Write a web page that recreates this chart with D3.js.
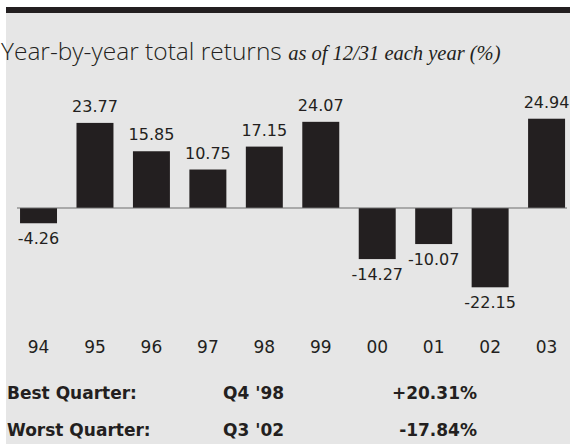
<!DOCTYPE html>
<html>
<head>
<meta charset="utf-8">
<script src="https://d3js.org/d3.v7.min.js"></script>
<style>
  body { margin: 0; background: #fff; }
</style>
</head>
<body>
<script>
// data
var years = ["94", "95", "96", "97", "98", "99", "00", "01", "02", "03"];
var returns = [-4.26, 23.77, 15.85, 10.75, 17.15, 24.07, -14.27, -10.07, -22.15, 24.94];
var quarterLabels = ["Best Quarter:", "Worst Quarter:"];
var quarterPeriods = ["Q4 '98", "Q3 '02"];
var quarterValues = ["+20.31%", "-17.84%"];

var width = 570, height = 447;
var ink = "#231f20";

var svg = d3.select("body").append("svg")
    .attr("width", width)
    .attr("height", height);

// panel background + top rule
svg.append("rect")
    .attr("x", 6).attr("y", 12)
    .attr("width", width - 6).attr("height", 432)
    .attr("fill", "#e6e6e6");
svg.append("rect")
    .attr("x", 6).attr("y", 7)
    .attr("width", width - 6).attr("height", 6)
    .attr("fill", ink);

// title
var title = svg.append("text")
    .attr("x", 1).attr("y", 60)
    .attr("fill", ink);
title.append("tspan")
    .attr("font-family", "Open Sans")
    .attr("font-weight", 300)
    .attr("font-size", 24.5)
    .text("Year-by-year total returns ");
title.append("tspan")
    .attr("font-family", "Liberation Serif")
    .attr("font-style", "italic")
    .attr("font-size", 20.5)
    .text("as of 12/31 each year (%)");

var x = d3.scaleBand()
    .domain(years)
    .range([10.3, 574.8])
    .paddingInner(0.345)
    .paddingOuter(0.1725);

var y = d3.scaleLinear()
    .domain([-25, 25])
    .range([297.5, 118.5]);

var data = years.map(function(d, i) { return {year: d, value: returns[i]}; });

var g = svg.append("g");

g.selectAll("rect.bar")
    .data(data).enter()
    .append("rect")
    .attr("class", "bar")
    .attr("x", d => x(d.year))
    .attr("width", x.bandwidth())
    .attr("y", d => d.value >= 0 ? y(d.value) : y(0))
    .attr("height", d => Math.abs(y(d.value) - y(0)))
    .attr("fill", ink);

// zero line
g.append("line")
    .attr("x1", 17).attr("x2", 567)
    .attr("y1", y(0)).attr("y2", y(0))
    .attr("stroke", "#6d6d6d")
    .attr("stroke-width", 1);

// value labels
g.selectAll("text.val")
    .data(data).enter()
    .append("text")
    .attr("class", "val")
    .attr("x", d => x(d.year) + x.bandwidth() / 2)
    .attr("y", d => d.value >= 0 ? y(d.value) - 11 : y(d.value) + 21)
    .attr("text-anchor", "middle")
    .attr("font-family", "DejaVu Sans")
    .attr("font-size", 16)
    .attr("fill", ink)
    .text(d => d.value.toFixed(2));

// year axis
var xAxis = d3.axisBottom(x).tickSize(0).tickPadding(0);
svg.append("g")
    .attr("transform", "translate(0,340.5)")
    .call(xAxis)
    .call(g => g.select(".domain").remove())
    .call(g => g.selectAll("text")
        .attr("dy", "0.73em")
        .attr("font-family", "DejaVu Sans")
        .attr("font-size", 17)
        .attr("fill", ink));

// best / worst quarter rows
var rowY = [399, 436];
var rows = svg.append("g")
    .attr("font-family", "DejaVu Sans")
    .attr("font-weight", "bold")
    .attr("font-size", 17)
    .attr("fill", ink);
rows.selectAll("text.lab").data(quarterLabels).enter()
    .append("text").attr("class", "lab")
    .attr("x", 7).attr("y", (d, i) => rowY[i])
    .text(d => d);
rows.selectAll("text.per").data(quarterPeriods).enter()
    .append("text").attr("class", "per")
    .attr("x", 223).attr("y", (d, i) => rowY[i])
    .text(d => d);
rows.selectAll("text.pct").data(quarterValues).enter()
    .append("text").attr("class", "pct")
    .attr("x", 477).attr("y", (d, i) => rowY[i])
    .attr("text-anchor", "end")
    .text(d => d);
</script>
</body>
</html>
